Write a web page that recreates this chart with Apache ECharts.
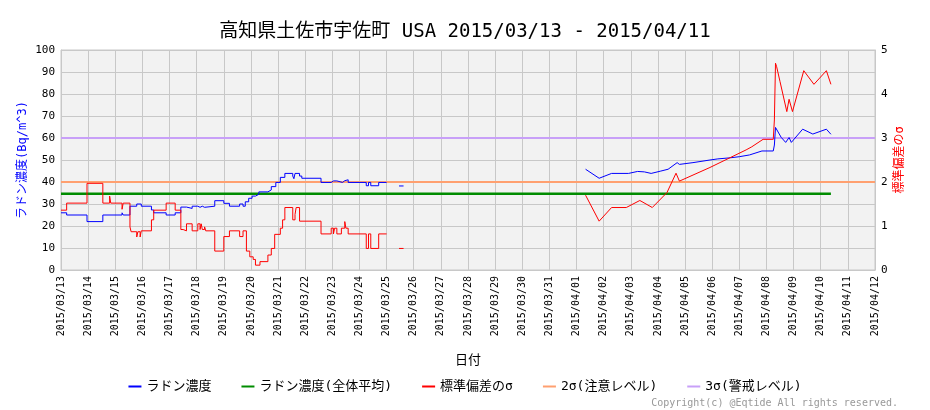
<!DOCTYPE html>
<html><head><meta charset="utf-8">
<script src="https://cdn.jsdelivr.net/npm/echarts@6/dist/echarts.min.js"></script>
<style>html,body{margin:0;padding:0;background:#fff}#c{width:930px;height:410px}</style>
</head><body><div id="c"></div>
<script>
// hours since 2015/03/13 00:00
const titleText = '高知県土佐市宇佐町 USA 2015/03/13 - 2015/04/11';
const startDate = [2015, 2, 13];
const xMaxHours = 720;
const seriesNames = ['ラドン濃度', 'ラドン濃度(全体平均)', '標準偏差のσ', '2σ(注意レベル)', '3σ(警戒レベル)'];

const blueMarch = [[0,26],[5,25],[23,22],[37,25],[54,26],[55,25],[61,29],[67,30],[71,29],[80,27.3],[82,26],[93,25],[101,26],[106,28.6],[111,28],[116,29],[121,28.5],[123,29],[125,28.5],[127,29],[136,31.5],[144,30.3],[149,29],[158,30],[161,29],[163,31],[166,32.6],[169,33.6],[172,34.4],[175,35.5],[183,36.4],[186,37.9],[190,39.8],[194,42.1],[198,43.9],[205,42.7],[206,41.5],[207,43.9],[211,42.7],[213,41.7],[230,39.8],[239,40.5],[241,39.8],[242,40.5],[244,39.8],[249,40.6],[251,40],[252,41],[254,39.8],[270,38.3],[272,39.8],[274,38.3],[281,39.8],[288,39.8]];
const blueMar25 = [[299,38.2],[303,38.2]];
const blueApril = [[464,45.8],[476,41.7],[487,43.9],[502,43.9],[510,44.8],[516,44.6],[522,43.9],[530,44.9],[537,45.8],[545,48.8],[547,48],[559,48.8],[574,50],[581,50.5],[592,51],[600,51.5],[609,52.3],[620,54.1],[630,54.1],[631,56.8],[632,64.8],[637,60.3],[641,58],[644,60.2],[646,58],[656,64],[665,61.8],[677,64],[681,61.7]];

const redMarch = [[0,1.36],[5,1.52],[23,1.97],[37,1.52],[43,1.68],[44,1.52],[54,1.38],[55,1.52],[61,0.98],[62,0.87],[67,0.75],[68,0.87],[70,0.75],[71,0.89],[80,1.14],[82,1.36],[93,1.52],[101,1.36],[106,0.92],[108,0.89],[111,1.05],[116,0.89],[121,1.05],[123,0.92],[124,1.05],[125,0.92],[127,0.98],[128,0.89],[136,0.43],[144,0.76],[149,0.89],[158,0.76],[161,0.89],[164,0.43],[167,0.3],[170,0.24],[172,0.11],[176,0.19],[183,0.34],[186,0.49],[189,0.81],[194,0.95],[196,1.14],[198,1.42],[205,1.14],[207,1.26],[208,1.42],[211,1.11],[230,0.82],[239,0.95],[241,0.82],[242,0.95],[244,0.82],[248,0.95],[251,1.1],[252,0.95],[254,0.82],[270,0.49],[272,0.82],[274,0.49],[281,0.82],[288,0.82]];
const redMar25 = [[299,0.49],[303,0.49]];
const redApril = [[464,1.7],[476,1.11],[487,1.42],[500,1.42],[512,1.58],[523,1.42],[536,1.76],[544,2.2],[547,2.02],[574,2.33],[606,2.73],[611,2.8],[621,2.97],[630,2.97],[631,3.41],[632,4.7],[633,4.62],[636,4.28],[642,3.6],[644,3.88],[647,3.6],[657,4.53],[666,4.22],[677,4.53],[681,4.22]];

const meanValue = 34.7;
const meanRange = [0, 681];
const sigma2 = 2;
const sigma3 = 3;

const FONT = "'DejaVu Sans Mono','Noto Sans CJK JP',monospace";
const pad = n => (n < 10 ? '0' : '') + n;
function hourLabel(h) {
  const d = new Date(startDate[0], startDate[1], startDate[2]);
  d.setDate(d.getDate() + Math.round(h / 24));
  return d.getFullYear() + '/' + pad(d.getMonth() + 1) + '/' + pad(d.getDate());
}
const C = { blue: '#0000ff', green: '#008c00', red: '#ff0000', orange: '#ffa070', purple: '#c8a0f8' };

function line(name, data, color, yIdx, step, width, z) {
  return { name, type: 'line', data, yAxisIndex: yIdx, step: step ? 'end' : false,
    showSymbol: false, symbol: 'none', lineStyle: { color, width: width || 1 }, itemStyle: { color },
    silent: true, animation: false, z: z || 3 };
}

const chart = echarts.init(document.getElementById('c'), null, { renderer: 'canvas' });
chart.setOption({
  animation: false,
  title: { text: titleText, left: 'center', top: 18, textStyle: { fontFamily: FONT, fontSize: 19, fontWeight: 'normal', color: '#000' } },
  legend: {
    data: seriesNames, left: 'center', top: 375, icon: 'rect', itemWidth: 13, itemHeight: 2, itemGap: 30,
    textStyle: { fontFamily: FONT, fontSize: 13, color: '#000' }
  },
  grid: { left: 61, right: 55, top: 50, bottom: 140, show: true, backgroundColor: '#f2f2f2', borderColor: '#c8c8c8', borderWidth: 1 },
  xAxis: {
    type: 'value', min: 0, max: xMaxHours, interval: 24,
    name: '日付', nameLocation: 'middle', nameGap: 84, nameTextStyle: { fontFamily: FONT, fontSize: 13, color: '#000' },
    nameMoveOverlap: false,
    axisLine: { show: true, lineStyle: { color: '#c8c8c8' } }, axisTick: { show: false },
    splitLine: { show: true, lineStyle: { color: '#c8c8c8', width: 1 } },
    axisLabel: { rotate: 90, margin: 6, fontFamily: FONT, fontSize: 10, color: '#000', showMinLabel: true, showMaxLabel: true, formatter: hourLabel }
  },
  yAxis: [
    { type: 'value', min: 0, max: 100, interval: 10, position: 'left',
      name: 'ラドン濃度(Bq/m^3)', nameLocation: 'middle', nameRotate: 90, nameGap: 32, nameMoveOverlap: false,
      nameTextStyle: { fontFamily: FONT, fontSize: 12, color: C.blue },
      axisLine: { show: true, lineStyle: { color: '#c8c8c8' } }, axisTick: { show: false },
      splitLine: { show: true, lineStyle: { color: '#c8c8c8', width: 1 } },
      axisLabel: { margin: 6, fontFamily: FONT, fontSize: 11, color: '#000' } },
    { type: 'value', min: 0, max: 5, interval: 1, position: 'right',
      name: '標準偏差のσ', nameLocation: 'middle', nameRotate: 90, nameGap: 19, nameMoveOverlap: false,
      nameTextStyle: { fontFamily: FONT, fontSize: 12, color: C.red },
      axisLine: { show: true, lineStyle: { color: '#c8c8c8' } }, axisTick: { show: false },
      splitLine: { show: false },
      axisLabel: { margin: 6, fontFamily: FONT, fontSize: 11, color: '#000' } }
  ],
  series: [
    line(seriesNames[0], blueMarch, C.blue, 0, true),
    line(seriesNames[0], blueMar25, C.blue, 0, true),
    line(seriesNames[0], blueApril, C.blue, 0, false),
    line(seriesNames[1], meanRange.map(h => [h, meanValue]), C.green, 0, false, 2.5, 2),
    line(seriesNames[2], redMarch, C.red, 1, true),
    line(seriesNames[2], redMar25, C.red, 1, true),
    line(seriesNames[2], redApril, C.red, 1, false),
    line(seriesNames[3], [[0, sigma2], [xMaxHours, sigma2]], C.orange, 1, false, 2, 2),
    line(seriesNames[4], [[0, sigma3], [xMaxHours, sigma3]], C.purple, 1, false, 2, 2)
  ],
  graphic: [{ type: 'text', right: 32, bottom: 2, style: { text: 'Copyright(c) @Eqtide All rights reserved.', font: "10px 'DejaVu Sans Mono',monospace", fill: '#999' } }]
});
</script></body></html>
